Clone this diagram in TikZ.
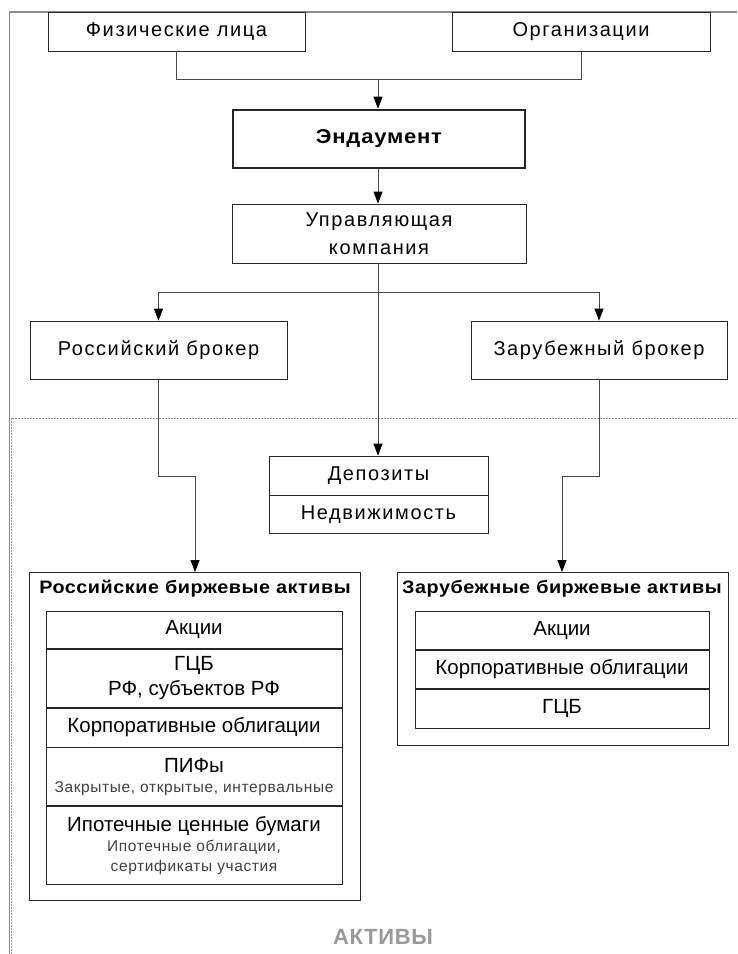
\documentclass[tikz,border=0pt]{standalone}
\usepackage{fontspec}
\setmainfont{Liberation Sans}
\newfontfamily\widefont[LetterSpace=8]{Liberation Sans}
\newfontfamily\titlefont[FakeStretch=1.1,LetterSpace=3]{Liberation Sans}
\newfontfamily\endfont[FakeStretch=1.1,LetterSpace=4]{Liberation Sans}
\usetikzlibrary{arrows.meta}
\newcommand{\smalltxt}[1]{{\fontsize{15.5}{20}\selectfont\addfontfeature{LetterSpace=4}\color{black!75}#1}}
\begin{document}
\begin{tikzpicture}[x=1pt,y=-1pt,
  box/.style={draw=black!85, line width=0.8pt, inner sep=0pt, align=center,
    font=\fontsize{20}{25}\selectfont\widefont},
  rowbox/.style={box, font=\fontsize{20.5}{25}\selectfont},
  thickbox/.style={box, line width=2.6pt, font=\fontsize{20}{25}\selectfont\endfont\bfseries},
  group/.style={draw=black!85, line width=0.8pt, inner sep=0pt},
  title/.style={inner sep=0pt, font=\fontsize{18}{21}\selectfont\titlefont\bfseries},
  conn/.style={draw=black!72, line width=0.9pt},
  arr/.style={conn, -{Triangle[length=12pt,width=9pt,color=black]}},
  frame/.style={draw=black!45, line width=1.1pt},
  dotline/.style={draw=black!40, line width=0.9pt, dash pattern=on 1.5pt off 1.5pt}]
\useasboundingbox (0,0) rectangle (737,954);
\fill[white] (0,0) rectangle (737,954);

% frame
\draw[frame] (737,12) -- (9.5,12) -- (9.5,954);
\draw[dotline] (12,418) -- (737,418);
\draw[dotline] (11.5,418) -- (11.5,954);

% top boxes
\node[box, minimum width=257, minimum height=39] (fiz) at (176.5,31.5) {Физические лица};
\node[box, minimum width=258, minimum height=39] (org) at (581,31.5) {Организации};
\node[thickbox, minimum width=292, minimum height=58] (end) at (379,139) {Эндаумент};
\node[box, minimum width=294, minimum height=59, font=\fontsize{20}{28}\selectfont\widefont] (upr) at (379,233.5) {Управляющая\\компания};
\node[box, minimum width=257, minimum height=58] (rbr) at (158.5,350) {Российский брокер};
\node[box, minimum width=256, minimum height=58] (fbr) at (599,350) {Зарубежный брокер};
\node[box, minimum width=219, minimum height=39] (dep) at (378.5,475.5) {Депозиты};
\node[box, minimum width=219, minimum height=38, anchor=north] (ned) at (dep.south) {Недвижимость};

% Russian assets
\node[group, minimum width=331, minimum height=328, anchor=north west] (ra) at (29,572) {};
\node[title] (rat) at (195,589) {Российские биржевые активы};
\node[rowbox, minimum width=296, minimum height=37, anchor=north] (r1) at (194,611) {Акции};
\node[rowbox, minimum width=296, minimum height=58, anchor=north] (r2) at (r1.south) {ГЦБ\\РФ, субъектов РФ};
\node[rowbox, minimum width=296, minimum height=39, anchor=north] (r3) at (r2.south) {Корпоративные облигации};
\node[rowbox, minimum width=296, minimum height=58, anchor=north, font=\fontsize{20.5}{20}\selectfont] (r4) at (r3.south)
  {ПИФы\\\smalltxt{Закрытые, открытые, интервальные}};
\node[rowbox, minimum width=296, minimum height=78, anchor=north, font=\fontsize{20.5}{20}\selectfont] (r5) at (r4.south)
  {Ипотечные ценные бумаги\\\smalltxt{Ипотечные облигации,}\\\smalltxt{сертификаты участия}};

% Foreign assets
\node[group, minimum width=331, minimum height=173, anchor=north west] (fa) at (397,572) {};
\node[title] (fat) at (562,589) {Зарубежные биржевые активы};
\node[rowbox, minimum width=294, minimum height=38, anchor=north] (f1) at (562,611) {Акции};
\node[rowbox, minimum width=294, minimum height=38, anchor=north] (f2) at (f1.south) {Корпоративные облигации};
\node[rowbox, minimum width=294, minimum height=39, anchor=north] (f3) at (f2.south) {ГЦБ};

% label
\node[inner sep=0pt, text=black!40, font=\fontsize{22}{24}\selectfont\bfseries\addfontfeature{LetterSpace=3}] (akt) at (383,937) {АКТИВЫ};

% connectors
\coordinate (j1) at (378,79);
\draw[conn] (fiz.south) -- (fiz.south |- j1) -- (org.south |- j1) -- (org.south);
\draw[arr] (j1) -- (j1 |- end.north);
\draw[arr] (end.south -| j1) -- (j1 |- upr.north);
\draw[arr] (upr.south -| j1) -- (j1 |- dep.north);
\coordinate (j2) at (378,292);
\draw[arr] (j2) -- (rbr.north |- j2) -- (rbr.north);
\draw[arr] (j2) -- (fbr.north |- j2) -- (fbr.north);
\coordinate (j3) at (195,476);
\draw[arr] (rbr.south) -- (rbr.south |- j3) -- (j3) -- (j3 |- ra.north);
\coordinate (j4) at (562,476);
\draw[arr] (fbr.south) -- (fbr.south |- j4) -- (j4) -- (j4 |- fa.north);
\end{tikzpicture}
\end{document}
